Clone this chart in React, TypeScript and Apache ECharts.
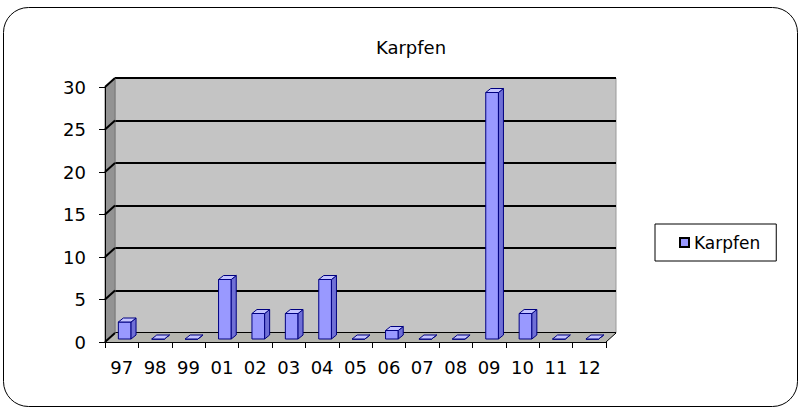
import React, { useEffect, useRef } from "react";
import * as echarts from "echarts";

const categories = ["97", "98", "99", "01", "02", "03", "04", "05", "06", "07", "08", "09", "10", "11", "12"];
const karpfen = [2, 0, 0, 7, 3, 3, 7, 0, 1, 0, 0, 29, 3, 0, 0];
const yMin = 0;
const yMax = 30;
const yInterval = 5;
const seriesName = "Karpfen";

const FONT = "'DejaVu Sans', sans-serif";
const DX = 10;
const DY = -9;

export default function App() {
  const ref = useRef<HTMLDivElement>(null);
  useEffect(() => {
    if (!ref.current) return;
    const chart = echarts.init(ref.current, undefined, { renderer: "svg" });
    const option: any = {
      animation: false,
      backgroundColor: "#ffffff",
      title: {
        text: seriesName,
        left: 406,
        top: 33,
        textAlign: "center",
        textStyle: { fontFamily: FONT, fontSize: 18, fontWeight: "normal", color: "#000" },
      },
      legend: {
        data: [
          {
            name: seriesName,
            icon: "rect",
            itemStyle: { color: "#9999ff", borderColor: "#000", borderWidth: 2 },
          },
        ],
        left: 655,
        top: 224,
        orient: "vertical",
        padding: [10, 16, 10, 24],
        borderColor: "#000",
        borderWidth: 1,
        itemWidth: 9,
        itemHeight: 9,
        textStyle: { fontFamily: FONT, fontSize: 17, color: "#000" },
      },
      graphic: [
        {
          type: "rect",
          shape: { x: 3.5, y: 7.5, width: 794, height: 399, r: 25 },
          style: { fill: "none", stroke: "#000", lineWidth: 1 },
          z: 100,
        },
      ],
      grid: [
        {
          left: 115,
          top: 78,
          width: 501,
          height: 255,
          show: true,
          backgroundColor: "#c4c4c4",
          borderColor: "#9a9a9a",
          borderWidth: 1,
        },
        { left: 105, top: 87, width: 501, height: 255 },
      ],
      xAxis: [
        { type: "category", gridIndex: 0, data: categories, show: false },
        {
          type: "category",
          gridIndex: 1,
          data: categories,
          axisLine: { show: true, lineStyle: { color: "#000", width: 1 } },
          axisTick: { show: true, length: 6, interval: 0, lineStyle: { color: "#000" } },
          axisLabel: { fontFamily: FONT, fontSize: 18, color: "#000", margin: 16, interval: 0 },
          z: 20,
        },
      ],
      yAxis: [
        {
          type: "value",
          gridIndex: 0,
          min: yMin,
          max: yMax,
          interval: yInterval,
          axisLine: { show: false },
          axisTick: { show: false },
          axisLabel: { show: false },
          splitLine: { show: true, lineStyle: { color: "#000", width: 2 } },
        },
        {
          type: "value",
          gridIndex: 1,
          min: yMin,
          max: yMax,
          interval: yInterval,
          axisLine: { show: true, lineStyle: { color: "#000", width: 1 } },
          axisTick: { show: true, length: 6, lineStyle: { color: "#000" } },
          axisLabel: { fontFamily: FONT, fontSize: 18, color: "#000", margin: 19 },
          splitLine: { show: false },
          z: 20,
        },
      ],
      series: [
        {
          type: "custom",
          name: "walls",
          xAxisIndex: 1,
          yAxisIndex: 1,
          clip: false,
          silent: true,
          z: 1,
          data: [[0, 0]],
          renderItem: (params: any, api: any) => {
            const cs = params.coordSys;
            const x = cs.x;
            const y = cs.y;
            const w = cs.width;
            const h = cs.height;
            const children: any[] = [
              {
                type: "polygon",
                shape: { points: [[x, y], [x + DX, y + DY], [x + DX, y + h + DY], [x, y + h]] },
                style: { fill: "#939393", stroke: "#777", lineWidth: 1 },
              },
              {
                type: "polygon",
                shape: { points: [[x, y + h], [x + DX, y + h + DY], [x + w + DX, y + h + DY], [x + w, y + h]] },
                style: { fill: "#b6b6b0", stroke: "none" },
              },
              {
                type: "line",
                shape: { x1: x + w, y1: y + h, x2: x + w + DX, y2: y + h + DY },
                style: { stroke: "#000", lineWidth: 1 },
              },
            ];
            for (let t = yMin; t <= yMax; t += yInterval) {
              const p = api.coord([0, t]);
              children.push({
                type: "line",
                shape: { x1: x, y1: p[1], x2: x + DX, y2: p[1] + DY },
                style: { stroke: "#000", lineWidth: 2 },
              });
            }
            return { type: "group", children };
          },
        },
        {
          type: "custom",
          name: seriesName,
          xAxisIndex: 1,
          yAxisIndex: 1,
          clip: false,
          z: 10,
          itemStyle: { color: "#9999ff", borderColor: "#000", borderWidth: 2 },
          data: karpfen.map((v, i) => [i, v]),
          renderItem: (params: any, api: any) => {
            const idx = api.value(0);
            const v = api.value(1);
            const top = api.coord([idx, v]);
            const base = api.coord([idx, 0]);
            const bw = api.size([1, 0])[0] * 0.38;
            const x0 = top[0] + 3 - bw / 2;
            const x1 = x0 + bw;
            const yT = top[1] - 3;
            const yB = base[1] - 3;
            const dx = 5;
            const dy = -4;
            const stroke = { stroke: "#000080", lineWidth: 1, lineJoin: "round" };
            return {
              type: "group",
              children: [
                {
                  type: "polygon",
                  shape: { points: [[x0, yT], [x1, yT], [x1, yB], [x0, yB]] },
                  style: { fill: "#9999ff", ...stroke },
                },
                {
                  type: "polygon",
                  shape: { points: [[x1, yT], [x1 + dx, yT + dy], [x1 + dx, yB + dy], [x1, yB]] },
                  style: { fill: "#6f6fd6", ...stroke },
                },
                {
                  type: "polygon",
                  shape: { points: [[x0, yT], [x0 + dx, yT + dy], [x1 + dx, yT + dy], [x1, yT]] },
                  style: { fill: "#c4c4ff", ...stroke },
                },
              ],
            };
          },
        },
      ],
    };
    chart.setOption(option);
    return () => chart.dispose();
  }, []);
  return (
    <div
      ref={ref}
      style={{ position: "fixed", left: 0, top: 0, width: 801, height: 409, background: "#fff" }}
    />
  );
}
